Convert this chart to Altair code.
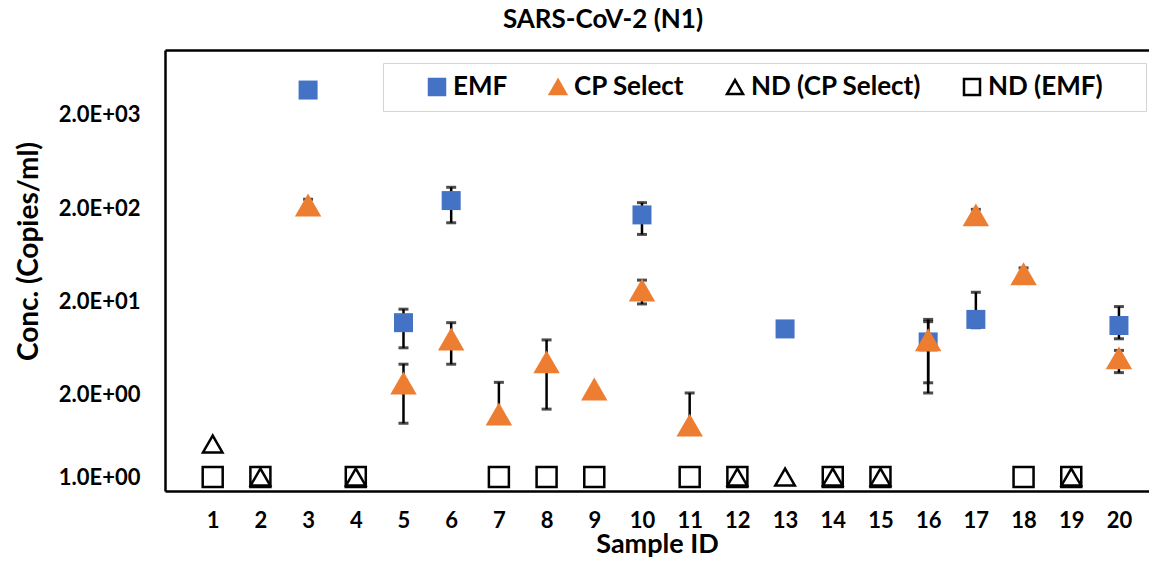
import altair as alt
import pandas as pd

# ---------------- data ----------------
samples = list(range(1, 21))

series_names = ["EMF", "CP Select", "ND (CP Select)", "ND (EMF)"]
fill_colors = ["#4472C4", "#ED7D31", "transparent", "transparent"]
stroke_colors = ["#4472C4", "#ED7D31", "black", "black"]
shapes = ["square", "triangle-up", "triangle-up", "square"]

emf_ids = [3, 5, 6, 10, 13, 16, 17, 20]
emf_vals = [3700, 11.9, 242, 170, 10.2, 7.4, 12.9, 11.1]
emf_lo = [3700, 6.4, 140, 105, 10.2, 2.1, 10.5, 8.0]
emf_hi = [3700, 16.6, 336, 230, 10.2, 12.9, 25.2, 17.7]

cp_ids = [3, 5, 6, 7, 8, 9, 10, 11, 16, 17, 18, 20]
cp_vals = [217, 2.69, 7.96, 1.25, 4.52, 2.32, 26.7, 0.95, 7.8, 170, 39.8, 4.99]
cp_lo = [205, 0.995, 4.27, 1.1, 1.41, 2.32, 18.9, 0.85, 2.7, 160, 37, 3.47]
cp_hi = [250, 4.27, 11.9, 2.73, 7.78, 2.32, 34, 2.1, 12.2, 195, 46, 6.0]

# plotting level of "not detected" samples (shown on the axis as 1.0E+00)
nd_level = 0.264
nd_emf_ids = [1, 2, 4, 7, 8, 9, 11, 12, 14, 15, 18, 19]
nd_emf_vals = [nd_level] * len(nd_emf_ids)
nd_cp_ids = [1, 2, 4, 12, 13, 14, 15, 19]
nd_cp_vals = [0.597, nd_level, nd_level, nd_level, nd_level, nd_level, nd_level, nd_level]

y_tick_values = [nd_level, 2, 20, 200, 2000]
y_tick_labels = ["1.0E+00", "2.0E+00", "2.0E+01", "2.0E+02", "2.0E+03"]

# ---------------- tables ----------------
meas = pd.concat([
    pd.DataFrame({"sample": emf_ids, "value": emf_vals, "lo": emf_lo, "hi": emf_hi, "series": "EMF"}),
    pd.DataFrame({"sample": cp_ids, "value": cp_vals, "lo": cp_lo, "hi": cp_hi, "series": "CP Select"}),
], ignore_index=True)
nd = pd.concat([
    pd.DataFrame({"sample": nd_cp_ids, "value": nd_cp_vals, "series": "ND (CP Select)"}),
    pd.DataFrame({"sample": nd_emf_ids, "value": nd_emf_vals, "series": "ND (EMF)"}),
], ignore_index=True)

FONT = "Lato"
W, H = 984, 441

x_scale = alt.Scale(domain=[0, 20.63], nice=False, zero=False)
y_scale = alt.Scale(type="log", domain=[0.187, 9940], nice=False)

lab_arr = "[" + ",".join("'%s'" % s for s in y_tick_labels) + "]"
val_arr = "[" + ",".join(str(v) for v in y_tick_values) + "]"

x_axis = alt.Axis(orient="bottom", values=samples, ticks=False, grid=False, domainColor="black",
                  domainWidth=2.5, labelFont=FONT, labelFontSize=22, labelFontWeight="bold",
                  labelColor="black", labelPadding=19, title="Sample ID", titleFont=FONT,
                  titleFontSize=27, titleFontWeight="bold", titleColor="black",
                  titleBaseline="alphabetic", titleY=61)
x_top_axis = alt.Axis(orient="top", labels=False, ticks=False, grid=False, domainColor="black",
                      domainWidth=2.5, title=None)
y_axis = alt.Axis(values=y_tick_values, labelExpr=f"{lab_arr}[indexof({val_arr}, datum.value)]",
                  ticks=False, grid=False, domainColor="black", domainWidth=2.5,
                  labelFont=FONT, labelFontSize=22, labelFontWeight="bold", labelColor="black",
                  labelPadding=25, title="Conc. (Copies/ml)", titleFont=FONT, titleFontSize=28,
                  titleFontWeight="bold", titleColor="black", titleAngle=270, titleAlign="center",
                  titleBaseline="alphabetic", titleX=-128, titleY=201)

# the last legend label gets trailing blank room so the frame reaches as far right as in the reference
last_name = series_names[-1]
pad_tail = "\u00a0" * 5 + "\u200b"
legend = alt.Legend(title=" ", titleOrient="left", titlePadding=30, titleFontSize=26,
                    orient="none", legendX=218, legendY=13, direction="horizontal",
                    padding=11, fillColor="white", strokeColor="#d4d4d4",
                    labelFont=FONT, labelFontSize=26, labelFontWeight="bold", labelColor="black",
                    labelLimit=400, symbolSize=256, symbolStrokeWidth=2.5, columnPadding=37,
                    labelOffset=3,
                    labelExpr=f"datum.label == '{last_name}' ? datum.label + '{pad_tail}' : datum.label")

enc_common = dict(
    fill=alt.Fill("series:N", scale=alt.Scale(domain=series_names, range=fill_colors), legend=legend),
    stroke=alt.Stroke("series:N", scale=alt.Scale(domain=series_names, range=stroke_colors), legend=legend),
    shape=alt.Shape("series:N", scale=alt.Scale(domain=series_names, range=shapes), legend=legend),
)

base_meas = alt.Chart(meas)

# error bar stems (this layer also carries the top frame line)
err = base_meas.mark_rule(color="black", strokeWidth=2.5).encode(
    x=alt.X("sample:Q", scale=x_scale, axis=x_top_axis),
    y=alt.Y("lo:Q", scale=y_scale, axis=y_axis),
    y2="hi:Q",
)
# caps (this layer carries the bottom axis)
cap_lo = base_meas.mark_tick(color="black", orient="horizontal", size=10, thickness=3).encode(
    x=alt.X("sample:Q", scale=x_scale, axis=x_axis),
    y=alt.Y("lo:Q", scale=y_scale, axis=y_axis),
)
cap_hi = base_meas.mark_tick(color="black", orient="horizontal", size=10, thickness=3).encode(
    x=alt.X("sample:Q", scale=x_scale, axis=None),
    y=alt.Y("hi:Q", scale=y_scale, axis=y_axis),
)


def points(data, name, size, sw):
    return alt.Chart(data).transform_filter(alt.datum.series == name).mark_point(
        size=size, strokeWidth=sw, opacity=1
    ).encode(
        x=alt.X("sample:Q", scale=x_scale, axis=None),
        y=alt.Y("value:Q", scale=y_scale, axis=y_axis),
        **enc_common,
    )


emf_pts = points(meas, "EMF", 361, 0)
cp_pts = points(meas, "CP Select", 700, 0)
nd_emf_pts = points(nd, "ND (EMF)", 400, 2.5)
nd_cp_pts = points(nd, "ND (CP Select)", 380, 2.5)

chart = alt.layer(err, cap_lo, cap_hi, emf_pts, cp_pts, nd_emf_pts, nd_cp_pts).resolve_axis(
    x="independent"
).properties(
    width=W, height=H,
    title=alt.TitleParams("SARS-CoV-2 (N1)", font=FONT, fontSize=26, fontWeight="bold",
                          color="black", anchor="middle", frame="group", dx=-54, offset=17),
    autosize=alt.AutoSizeParams(type="none"),
    padding={"left": 157, "top": 42, "right": 0, "bottom": 67},
).configure_view(stroke=None).configure_legend(
    strokeWidth=1.5
).configure(background="white")

chart.save("out.html", embed_options={"renderer": "svg", "actions": False})
